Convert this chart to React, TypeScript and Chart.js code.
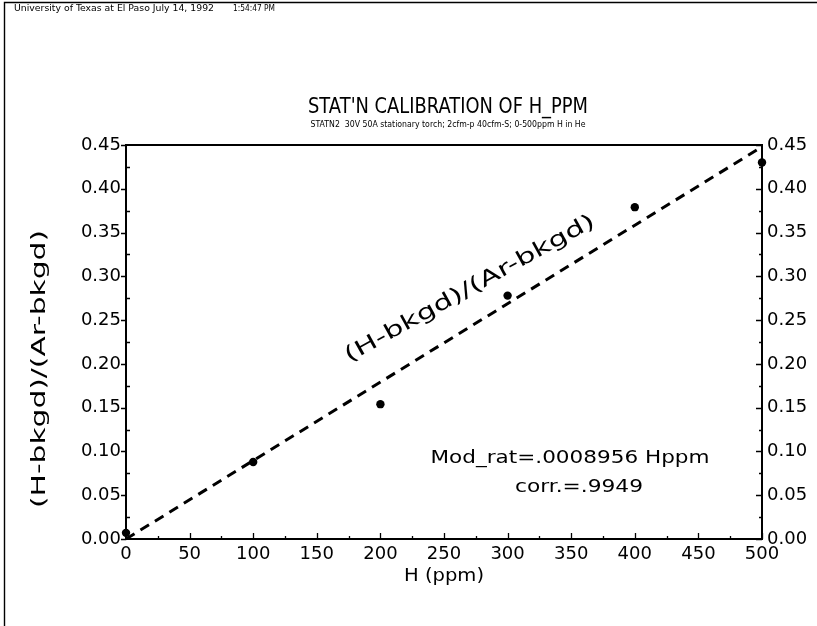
import React, { useEffect, useRef } from "react";
import { Chart, registerables } from "chart.js";

Chart.register(...registerables);

// ---- data ----
const hPpm = [0, 100, 200, 300, 400, 500];
const ratio = [0.007, 0.088, 0.154, 0.278, 0.379, 0.43];
const fitX = [0, 500];
const fitY = [0, 0.448];
const xMin = 0;
const xMax = 500;
const xStep = 50;
const yMin = 0;
const yMax = 0.45;
const yStep = 0.05;

const FAMILY = "'DejaVu Sans', sans-serif";
const WEIGHT = "normal";

function fitText(
  ctx: CanvasRenderingContext2D,
  text: string,
  x: number,
  y: number,
  w: number,
  size: number,
  opts: { rot?: number; baseline?: CanvasTextBaseline; weight?: string } = {}
) {
  ctx.save();
  ctx.font = `${opts.weight ?? WEIGHT} ${size}px ${FAMILY}`;
  ctx.fillStyle = "#000";
  ctx.textAlign = "center";
  ctx.textBaseline = opts.baseline ?? "alphabetic";
  const m = ctx.measureText(text).width;
  ctx.translate(x, y);
  if (opts.rot) ctx.rotate(opts.rot);
  ctx.scale(w / m, 1);
  ctx.fillText(text, 0, 0);
  ctx.restore();
}

const decoPlugin = {
  id: "deco",
  afterDraw(chart: any) {
    const ctx: CanvasRenderingContext2D = chart.ctx;
    const { left, right, top, bottom } = chart.chartArea;
    const xs = chart.scales.x;
    const ys = chart.scales.y;
    ctx.save();
    ctx.strokeStyle = "#000";

    // page frame
    ctx.lineWidth = 1.4;
    ctx.beginPath();
    ctx.moveTo(4.5, 626);
    ctx.lineTo(4.5, 2.5);
    ctx.lineTo(817, 2.5);
    ctx.stroke();

    // plot frame
    ctx.lineWidth = 2;
    ctx.strokeRect(left, top, right - left, bottom - top);

    // ticks
    ctx.lineWidth = 1.3;
    ctx.beginPath();
    for (let v = xMin; v <= xMax + 1e-9; v += xStep / 2) {
      const px = Math.round(xs.getPixelForValue(v)) + 0.5;
      const major = Math.abs(v / xStep - Math.round(v / xStep)) < 1e-6;
      const len = major ? 6 : 3;
      ctx.moveTo(px, bottom);
      ctx.lineTo(px, bottom - len);
    }
    const nY = Math.round((yMax - yMin) / (yStep / 2));
    for (let i = 0; i <= nY; i++) {
      const v = yMin + (i * yStep) / 2;
      const py = Math.round(ys.getPixelForValue(v)) + 0.5;
      const major = i % 2 === 0;
      if (major) {
        ctx.moveTo(left - 5, py);
        ctx.lineTo(left, py);
        ctx.moveTo(right - 6, py);
        ctx.lineTo(right, py);
      } else {
        ctx.moveTo(left, py);
        ctx.lineTo(left + 4, py);
        ctx.moveTo(right - 3, py);
        ctx.lineTo(right, py);
      }
    }
    ctx.stroke();
    ctx.restore();

    // texts
    fitText(ctx, "University of Texas at El Paso July 14, 1992", 114, 11, 200, 9);
    fitText(ctx, "1:54:47 PM", 254, 11, 42, 9);
    fitText(ctx, "STAT'N CALIBRATION OF H_PPM", 448, 113, 280, 22);
    fitText(ctx, "STATN2  30V 50A stationary torch; 2cfm-p 40cfm-S; 0-500ppm H in He", 448, 127, 275, 8);
    fitText(ctx, "(H-bkgd)/(Ar-bkgd)", 40, 369, 278, 20, { rot: -Math.PI / 2, baseline: "middle" });
    fitText(ctx, "H (ppm)", 444, 576, 80, 18, { baseline: "middle" });
    fitText(ctx, "Mod_rat=.0008956 Hppm", 570, 463, 279, 17);
    fitText(ctx, "corr.=.9949", 579, 492, 128, 17);
    fitText(ctx, "(H-bkgd)/(Ar-bkgd)", 470, 289, 283, 21, { rot: (-29 * Math.PI) / 180, baseline: "middle" });
  },
};

export default function App() {
  const ref = useRef<HTMLCanvasElement | null>(null);

  useEffect(() => {
    if (!ref.current) return;
    const tickFont = { family: FAMILY, size: 18, weight: WEIGHT as any };
    const yTicks = {
      stepSize: yStep,
      color: "#000",
      font: tickFont,
      padding: 5,
      autoSkip: false,
      callback: (v: any) => Number(v).toFixed(2),
    };
    const chart = new Chart(ref.current, {
      type: "scatter",
      data: {
        datasets: [
          {
            label: "fit",
            data: fitX.map((x, i) => ({ x, y: fitY[i] })),
            showLine: true,
            borderColor: "#000",
            borderWidth: 3,
            borderDash: [10, 7],
            pointRadius: 0,
            fill: false,
            clip: false as any,
            order: 2,
          },
          {
            label: "data",
            data: hPpm.map((x, i) => ({ x, y: ratio[i] })),
            showLine: false,
            pointRadius: 4.2,
            pointBackgroundColor: "#000",
            pointBorderColor: "#000",
            pointBorderWidth: 0,
            clip: false as any,
            order: 1,
          },
        ],
      },
      options: {
        responsive: false,
        animation: false,
        devicePixelRatio: 1,
        events: [],
        layout: { padding: { top: 145, left: 0, right: 0, bottom: 0 } },
        plugins: {
          legend: { display: false },
          title: { display: false },
          tooltip: { enabled: false },
        },
        scales: {
          x: {
            type: "linear",
            position: "bottom",
            min: xMin,
            max: xMax,
            grid: { display: false, drawTicks: false },
            border: { display: false },
            ticks: {
              stepSize: xStep,
              color: "#000",
              font: tickFont,
              padding: 5,
              maxRotation: 0,
              autoSkip: false,
            },
            afterFit: (s: any) => {
              s.height = 87;
            },
          },
          y: {
            type: "linear",
            position: "left",
            min: yMin,
            max: yMax,
            grid: { display: false, drawTicks: false },
            border: { display: false },
            ticks: yTicks,
            afterFit: (s: any) => {
              s.width = 126;
            },
          },
          y2: {
            type: "linear",
            position: "right",
            min: yMin,
            max: yMax,
            grid: { display: false, drawTicks: false },
            border: { display: false },
            ticks: yTicks,
            afterFit: (s: any) => {
              s.width = 55;
            },
          },
        },
      } as any,
      plugins: [decoPlugin],
    });
    return () => chart.destroy();
  }, []);

  return (
    <canvas
      ref={ref}
      width={817}
      height={626}
      style={{ position: "fixed", left: 0, top: 0, width: 817, height: 626, background: "#fff" }}
    />
  );
}
